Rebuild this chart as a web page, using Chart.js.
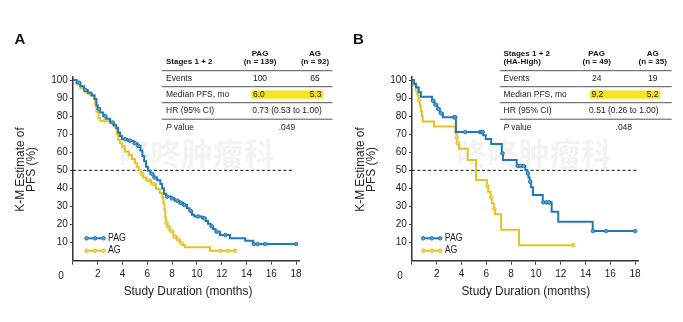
<!DOCTYPE html>
<html>
<head>
<meta charset="utf-8">
<script src="https://cdn.jsdelivr.net/npm/chart.js@4/dist/chart.umd.min.js"></script>
<style>
html, body { margin: 0; padding: 0; background: #fff; }
#wrap { position: relative; width: 683px; height: 322px; overflow: hidden; }
canvas { position: absolute; top: 0; }
#cA { left: 0; }
#cB { left: 341px; }
</style>
</head>
<body>
<div id="wrap">
  <canvas id="cA" width="341" height="322"></canvas>
  <canvas id="cB" width="342" height="322"></canvas>
</div>
<script>
// axis ticks
const monthTicks = [0, 2, 4, 6, 8, 10, 12, 14, 16, 18];
const pctTicks = [10, 20, 30, 40, 50, 60, 70, 80, 90, 100];
const armNames = ['PAG', 'AG'];
const medianLevel = 50;

// panel A - stages 1 + 2
const pagA_time = [0, 0.3, 0.6, 0.9, 1.2, 1.5, 1.75, 1.9, 2.0, 2.2, 2.45, 2.7, 3.0, 3.3, 3.5, 3.65, 3.8, 3.95, 4.4, 4.9,
  5.2, 5.45, 5.6, 5.75, 5.9, 6.05, 6.25, 6.5, 6.8, 7.05, 7.2, 7.35, 7.5, 7.9, 8.2, 8.6, 8.9, 9.2, 9.4, 9.6,
  9.8, 10.4, 10.7, 10.9, 11.1, 11.3, 11.5, 11.86, 12.67, 13.9, 14.55, 18];
const pagA_surv = [100, 98.5, 96.5, 94.5, 93, 91.5, 89.5, 86, 84, 82, 80, 78.5, 76.5, 75, 73.5, 71, 69, 67.3, 66.4, 65,
  63.5, 61, 58, 55, 52, 49.8, 48, 46, 44.5, 42.5, 40, 37, 35.5, 34.5, 33.2, 32, 30.8, 29, 27.5, 25.5,
  24.5, 23.5, 22, 20.5, 19, 17.5, 16, 14.2, 12.4, 11.1, 9.2, 9.2];
const pagA_cens = [0.5, 1.0, 2.1, 2.6, 3.2, 4.2, 4.6, 5.0, 5.3, 6.4, 6.6, 7.6, 8.0, 8.4, 8.7, 9.0, 9.5, 10.1,
  10.6, 11.2, 11.6, 12.3, 14.6, 14.9, 15.5, 18];

const agA_time = [0, 0.3, 0.6, 0.9, 1.2, 1.5, 1.7, 1.8, 1.9, 2.05, 2.2, 3.0, 3.25, 3.45, 3.55, 3.65, 3.8, 3.95, 4.2, 4.5,
  4.75, 5.0, 5.15, 5.3, 5.5, 5.65, 5.9, 6.3, 6.7, 7.0, 7.2, 7.3, 7.38, 7.45, 7.5, 7.6, 7.8, 8.1, 8.4, 8.64,
  8.85, 9.04, 11.06, 13.07];
const agA_surv = [100, 98, 95.5, 94, 92.5, 91, 89.5, 86, 82.5, 79, 77.5, 76.5, 75, 73, 70, 67, 65, 63, 60.5, 58.5,
  56.3, 54, 52, 50, 48, 46.1, 44.5, 42.4, 39.7, 37.5, 35, 31.8, 28, 24, 21, 18.8, 16.5, 13.3, 11.5, 9.6,
  8.5, 7.4, 5.5, 5.5];
const agA_cens = [0.4, 1.0, 1.4, 2.6, 3.35, 4.1, 5.6, 6.1, 6.5, 7.55, 7.7, 7.95, 8.25, 8.5, 8.75, 11.9, 12.5, 13.07];

const tableA_head = ['Stages 1 + 2'];
const tableA_n = ['(n = 139)', '(n = 92)'];
const tableA_rows = [['Events', '100', '65'], ['Median PFS, mo', '6.0', '5.3'],
  ['HR (95% CI)', '0.73 (0.53 to 1.00)'], ['P value', '.049']];

// panel B - stages 1 + 2, HA-high
const pagB_time = [0, 0.15, 0.33, 0.55, 0.73, 1.63, 1.82, 2.05, 2.25, 2.5, 3.55, 5.75, 5.95, 6.4, 7.25, 7.35, 8.45,
  9.15, 9.3, 9.4, 9.5, 9.6, 9.76, 10.55, 11.27, 11.8, 14.58, 18];
const pagB_surv = [100, 98, 96, 93.2, 90.7, 88.5, 86.4, 84, 81.6, 79.4, 71.2, 69.4, 67.3, 64.6, 59.5, 55.7, 52.4,
  50.2, 48.4, 46, 43.7, 40.6, 36.4, 32.3, 27.1, 21.6, 16.4, 16.4];
const pagB_cens = [1.7, 1.9, 2.15, 2.35, 3.4, 3.5, 4.3, 5.5, 5.6, 5.7, 7.3, 8.55, 8.75, 9.0, 9.35, 9.55,
  10.6, 10.85, 11.05, 14.6, 15.66, 18];

const agB_time = [0, 0.2, 0.33, 0.44, 0.55, 0.65, 0.72, 0.8, 0.87, 1.78, 3.53, 3.6, 3.66, 3.8, 4.5, 5.17,
  6.05, 6.15, 6.35, 6.45, 6.6, 6.7, 7.2, 8.64, 13.0];
const agB_surv = [100, 97.1, 94.3, 91.4, 88.6, 85.7, 82.9, 80, 77.1, 74.3, 71.2, 68.1, 65, 61.9, 55.7, 44.6,
  41.3, 38.1, 35, 31.8, 28.7, 25.7, 17.1, 8.6, 8.6];
const agB_cens = [0.4, 0.6, 3.58, 3.63, 3.7, 6.1, 6.4, 6.65, 13.0];

const tableB_head = ['Stages 1 + 2', '(HA-High)'];
const tableB_n = ['(n = 49)', '(n = 35)'];
const tableB_rows = [['Events', '24', '19'], ['Median PFS, mo', '9.2', '5.2'],
  ['HR (95% CI)', '0.51 (0.26 to 1.00)'], ['P value', '.048']];

const FONT = '"Liberation Sans", Arial, Helvetica, sans-serif';
const BLUE = '#2079b4', BLUE_PT = '#5d9fcb';
const GOLD = '#e3c325', GOLD_PT = '#ead56a';

function steps(time, surv) {
  return time.map((t, i) => ({ x: t, y: surv[i] }));
}
// censor marks sit on the curve at the given time
function marks(time, surv, cens) {
  return cens.map(c => {
    let v = surv[0];
    for (let i = 0; i < time.length; i++) if (time[i] <= c) v = surv[i];
    return { x: c, y: v };
  });
}

function txt(ctx, s, x, y, size, weight, align, sx, color, style) {
  ctx.save();
  ctx.translate(x, y);
  ctx.scale(sx || 1, 1);
  ctx.font = (style || '') + ' ' + (weight || 'normal') + ' ' + size + 'px ' + FONT;
  ctx.fillStyle = color || '#222';
  ctx.textAlign = align || 'left';
  ctx.textBaseline = 'middle';
  ctx.fillText(s, 0, 0);
  ctx.restore();
}

function makeDecor(p) {
  return {
    id: 'decor',
    beforeDatasetsDraw(chart) {
      const ctx = chart.ctx;
      ctx.save();
      ctx.font = 'bold 31px "Noto Sans CJK SC", sans-serif';
      ctx.fillStyle = 'rgba(160,160,160,0.12)';
      ctx.textAlign = 'center';
      ctx.textBaseline = 'middle';
      ctx.fillText('咚咚肿瘤科', p.wmX, 153);
      ctx.restore();
    },
    afterDraw(chart) {
      const ctx = chart.ctx;
      const t = p.tbl;
      // panel letter
      txt(ctx, p.letter, p.letterX, 40, 15, 'bold', 'center', 1, '#111');
      // axis titles
      txt(ctx, 'Study Duration (months)', p.xTitleX, 292, 12.5, 'normal', 'center', 0.95, '#222');
      ctx.save();
      ctx.translate(p.yTitleX[0], 169.5);
      ctx.rotate(-Math.PI / 2);
      txt(ctx, 'K-M Estimate of', 0, 0, 12.5, 'normal', 'center', 0.95, '#222');
      ctx.restore();
      ctx.save();
      ctx.translate(p.yTitleX[1], 169.5);
      ctx.rotate(-Math.PI / 2);
      txt(ctx, 'PFS (%)', 0, 0, 12.5, 'normal', 'center', 0.95, '#222');
      ctx.restore();
      // origin label
      txt(ctx, '0', p.zeroX, 276, 10, 'normal', 'center', 1, '#222');

      // legend
      [[armNames[0], BLUE, BLUE_PT, 238.3], [armNames[1], GOLD, GOLD_PT, 250.7]].forEach(([name, c, f, y]) => {
        ctx.save();
        ctx.strokeStyle = c;
        ctx.lineWidth = 2;
        ctx.beginPath();
        ctx.moveTo(p.legX, y);
        ctx.lineTo(p.legX + 20, y);
        ctx.stroke();
        [1.5, 10, 18.5].forEach(dx => {
          ctx.beginPath();
          ctx.arc(p.legX + dx, y, 1.8, 0, Math.PI * 2);
          ctx.fillStyle = f;
          ctx.fill();
          ctx.lineWidth = 1;
          ctx.stroke();
        });
        ctx.restore();
        txt(ctx, name, p.legX + 23, y, 10, 'normal', 'left', 0.88, '#222');
      });

      // table
      ctx.save();
      ctx.fillStyle = '#f7e41a';
      ctx.fillRect(t.hi0, 90.5, t.hi1 - t.hi0, 8.2);
      ctx.strokeStyle = '#555';
      ctx.lineWidth = 1;
      [70.7, 86.7, 102.7, 119.2].forEach(y => {
        ctx.beginPath();
        ctx.moveTo(t.x0, y);
        ctx.lineTo(t.x1, y);
        ctx.stroke();
      });
      ctx.restore();
      if (p.head.length === 1) {
        txt(ctx, p.head[0], t.txt, 62, 8, 'bold', 'left', 1, '#111');
      } else {
        txt(ctx, p.head[0], t.txt, 53.3, 8, 'bold', 'left', 1, '#111');
        txt(ctx, p.head[1], t.txt, 62, 8, 'bold', 'left', 1, '#111');
      }
      [t.c1, t.c2].forEach((cx, i) => {
        txt(ctx, armNames[i], cx, 53.3, 8, 'bold', 'center', 1, '#111');
        txt(ctx, p.n[i], cx, 62, 8, 'bold', 'center', 1, '#111');
      });
      const rowY = [78.7, 94.7, 110.7, 127.7];
      p.rows.forEach((r, i) => {
        const y = rowY[i];
        if (r[0] === 'P value') {
          txt(ctx, 'P', t.txt, y, 8.5, 'normal', 'left', 1, '#222', 'italic');
          txt(ctx, ' value', t.txt + 5.3, y, 8.5, 'normal', 'left', 1, '#222');
        } else {
          txt(ctx, r[0], t.txt, y, 8.5, 'normal', 'left', 1, '#222');
        }
        if (r.length === 3 && i === 1) {
          txt(ctx, r[1], t.hi0 + 1.5, y, 8.5, 'normal', 'left', 1, '#222');
          txt(ctx, r[2], t.hi1 - 1.5, y, 8.5, 'normal', 'right', 1, '#222');
        } else if (r.length === 3) {
          txt(ctx, r[1], t.c1, y, 8.5, 'normal', 'center', 1, '#222');
          txt(ctx, r[2], t.c2, y, 8.5, 'normal', 'center', 1, '#222');
        } else {
          txt(ctx, r[1], t.hr, y, 8.5, 'normal', 'center', 1, '#222');
        }
      });
    }
  };
}

function makePanel(p) {
  const curve = (data, c) => ({
    type: 'line', data, borderColor: c, borderWidth: 2, stepped: true,
    pointRadius: 0, fill: false, showLine: true
  });
  const cens = (data, c, f) => ({
    type: 'scatter', data, showLine: false, pointRadius: 1.8, pointBorderWidth: 1,
    pointBorderColor: c, pointBackgroundColor: f
  });
  new Chart(document.getElementById(p.id), {
    type: 'scatter',
    data: {
      datasets: [
        cens(marks(p.pagT, p.pagS, p.pagC), BLUE, BLUE_PT),
        curve(steps(p.pagT, p.pagS), BLUE),
        cens(marks(p.agT, p.agS, p.agC), GOLD, GOLD_PT),
        curve(steps(p.agT, p.agS), GOLD),
        {
          type: 'line', data: [{ x: 0, y: medianLevel }, { x: p.refEnd, y: medianLevel }],
          borderColor: '#111', borderWidth: 1, borderDash: [3, 2.4], pointRadius: 0, showLine: true
        }
      ]
    },
    options: {
      responsive: false,
      animation: false,
      layout: { padding: { left: 0, right: p.right, top: 76.4, bottom: 0 } },
      plugins: { legend: { display: false }, tooltip: { enabled: false } },
      scales: {
        x: {
          type: 'linear', min: 0, max: 18.25,
          afterBuildTicks: s => { s.ticks = monthTicks.map(v => ({ value: v })); },
          afterFit: s => { s.height = 322 - 260.7; },
          grid: { display: true, drawOnChartArea: false, drawTicks: true, tickLength: 4, color: '#444' },
          border: { display: true, color: '#333', width: 1.5 },
          ticks: {
            font: { family: FONT, size: 10 }, color: '#222', padding: 4,
            maxRotation: 0, autoSkip: false,
            callback: v => (v === 0 ? '' : String(v))
          }
        },
        y: {
          type: 'linear', min: 0, max: 102,
          afterBuildTicks: s => { s.ticks = pctTicks.map(v => ({ value: v })); },
          afterFit: s => { s.width = p.left; },
          grid: { display: true, drawOnChartArea: false, drawTicks: true, tickLength: 3, color: '#444' },
          border: { display: true, color: '#333', width: 1.5 },
          ticks: { font: { family: FONT, size: 10 }, color: '#222', padding: 2, autoSkip: false }
        }
      }
    },
    plugins: [makeDecor(p)]
  });
}

makePanel({
  id: 'cA', letter: 'A', letterX: 20, left: 72.9, right: 41.8, refEnd: 17.7,
  pagT: pagA_time, pagS: pagA_surv, pagC: pagA_cens, agT: agA_time, agS: agA_surv, agC: agA_cens,
  head: tableA_head, n: tableA_n, rows: tableA_rows,
  tbl: { x0: 161.7, x1: 332.5, txt: 166, c1: 260, c2: 315, hi0: 251.5, hi1: 323, hr: 287 },
  yTitleX: [21, 32], xTitleX: 188, zeroX: 61, legX: 85, wmX: 197
});
makePanel({
  id: 'cB', letter: 'B', letterX: 17.5, left: 70.9, right: 44.8, refEnd: 18.1,
  pagT: pagB_time, pagS: pagB_surv, pagC: pagB_cens, agT: agB_time, agS: agB_surv, agC: agB_cens,
  head: tableB_head, n: tableB_n, rows: tableB_rows,
  tbl: { x0: 159, x1: 330.7, txt: 162.5, c1: 255.7, c2: 311.7, hi0: 249, hi1: 319, hr: 282.8 },
  yTitleX: [20, 31], xTitleX: 184.8, zeroX: 59, legX: 80.7, wmX: 193
});
</script>
</body>
</html>
